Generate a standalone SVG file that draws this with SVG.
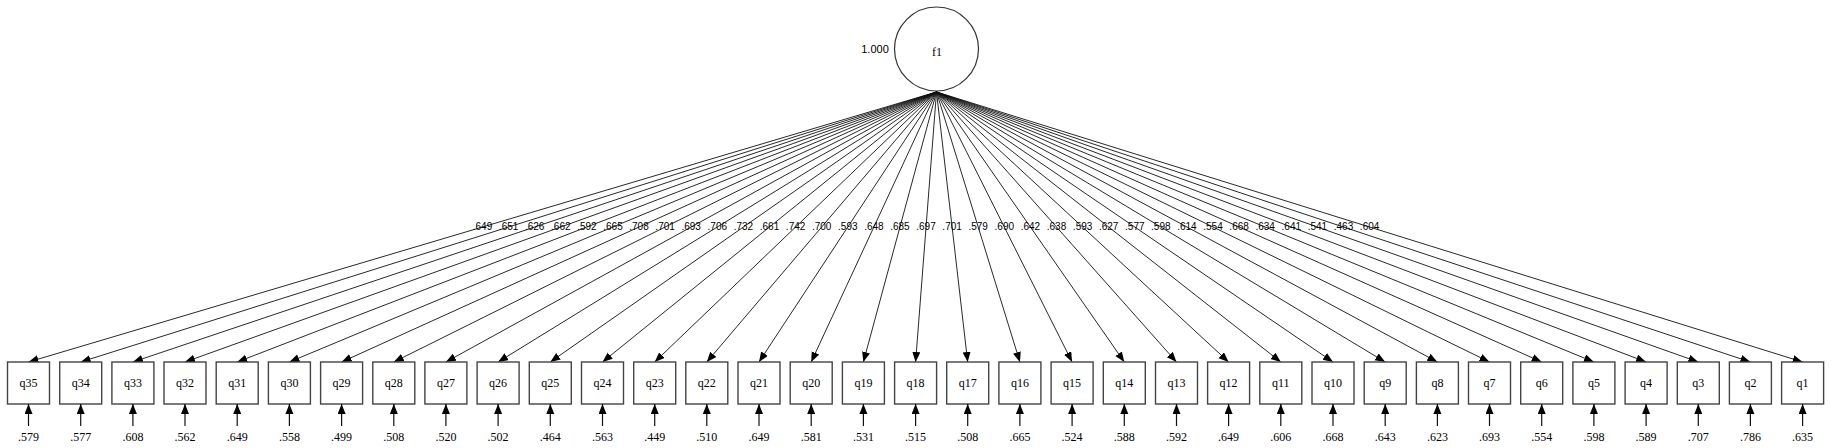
<svg xmlns="http://www.w3.org/2000/svg" width="1831" height="448" viewBox="0 0 1831 448">
<style>
.box{fill:#fff;stroke:#444;stroke-width:1.4}
.circ{fill:#fff;stroke:#333;stroke-width:1.2}
.edge{stroke:#111;stroke-width:0.9;fill:none}
.err{stroke:#111;stroke-width:1.2;fill:none}
.lbl{font-family:"Liberation Serif",serif;font-size:12px;fill:#000;text-anchor:middle}
.val{font-family:"Liberation Sans",sans-serif;font-size:10px;fill:#000;text-anchor:middle}
.ev{font-family:"Liberation Serif",serif;font-size:12px;fill:#000;text-anchor:middle}
</style>
<defs>
<marker id="ah" markerUnits="userSpaceOnUse" markerWidth="11" markerHeight="9" refX="10" refY="4" orient="auto">
<path d="M0,0 L10,4 L0,8 z" fill="#000"/>
</marker>
</defs>
<rect width="1831" height="448" fill="#fff"/>
<g id="f1">
<circle class="circ" cx="936.5" cy="49" r="42"/>
<text class="lbl" x="937" y="56">f1</text>
<text class="val" x="875" y="53" style="font-size:11px">1.000</text>
</g>
<g id="connectors">
<line class="edge" x1="936.5" y1="92" x2="28.5" y2="362" marker-end="url(#ah)"/>
<line class="edge" x1="936.5" y1="92" x2="80.7" y2="362" marker-end="url(#ah)"/>
<line class="edge" x1="936.5" y1="92" x2="132.9" y2="362" marker-end="url(#ah)"/>
<line class="edge" x1="936.5" y1="92" x2="185.0" y2="362" marker-end="url(#ah)"/>
<line class="edge" x1="936.5" y1="92" x2="237.2" y2="362" marker-end="url(#ah)"/>
<line class="edge" x1="936.5" y1="92" x2="289.4" y2="362" marker-end="url(#ah)"/>
<line class="edge" x1="936.5" y1="92" x2="341.6" y2="362" marker-end="url(#ah)"/>
<line class="edge" x1="936.5" y1="92" x2="393.8" y2="362" marker-end="url(#ah)"/>
<line class="edge" x1="936.5" y1="92" x2="445.9" y2="362" marker-end="url(#ah)"/>
<line class="edge" x1="936.5" y1="92" x2="498.1" y2="362" marker-end="url(#ah)"/>
<line class="edge" x1="936.5" y1="92" x2="550.3" y2="362" marker-end="url(#ah)"/>
<line class="edge" x1="936.5" y1="92" x2="602.5" y2="362" marker-end="url(#ah)"/>
<line class="edge" x1="936.5" y1="92" x2="654.7" y2="362" marker-end="url(#ah)"/>
<line class="edge" x1="936.5" y1="92" x2="706.8" y2="362" marker-end="url(#ah)"/>
<line class="edge" x1="936.5" y1="92" x2="759.0" y2="362" marker-end="url(#ah)"/>
<line class="edge" x1="936.5" y1="92" x2="811.2" y2="362" marker-end="url(#ah)"/>
<line class="edge" x1="936.5" y1="92" x2="863.4" y2="362" marker-end="url(#ah)"/>
<line class="edge" x1="936.5" y1="92" x2="915.6" y2="362" marker-end="url(#ah)"/>
<line class="edge" x1="936.5" y1="92" x2="967.7" y2="362" marker-end="url(#ah)"/>
<line class="edge" x1="936.5" y1="92" x2="1019.9" y2="362" marker-end="url(#ah)"/>
<line class="edge" x1="936.5" y1="92" x2="1072.1" y2="362" marker-end="url(#ah)"/>
<line class="edge" x1="936.5" y1="92" x2="1124.3" y2="362" marker-end="url(#ah)"/>
<line class="edge" x1="936.5" y1="92" x2="1176.5" y2="362" marker-end="url(#ah)"/>
<line class="edge" x1="936.5" y1="92" x2="1228.6" y2="362" marker-end="url(#ah)"/>
<line class="edge" x1="936.5" y1="92" x2="1280.8" y2="362" marker-end="url(#ah)"/>
<line class="edge" x1="936.5" y1="92" x2="1333.0" y2="362" marker-end="url(#ah)"/>
<line class="edge" x1="936.5" y1="92" x2="1385.2" y2="362" marker-end="url(#ah)"/>
<line class="edge" x1="936.5" y1="92" x2="1437.4" y2="362" marker-end="url(#ah)"/>
<line class="edge" x1="936.5" y1="92" x2="1489.5" y2="362" marker-end="url(#ah)"/>
<line class="edge" x1="936.5" y1="92" x2="1541.7" y2="362" marker-end="url(#ah)"/>
<line class="edge" x1="936.5" y1="92" x2="1593.9" y2="362" marker-end="url(#ah)"/>
<line class="edge" x1="936.5" y1="92" x2="1646.1" y2="362" marker-end="url(#ah)"/>
<line class="edge" x1="936.5" y1="92" x2="1698.3" y2="362" marker-end="url(#ah)"/>
<line class="edge" x1="936.5" y1="92" x2="1750.4" y2="362" marker-end="url(#ah)"/>
<line class="edge" x1="936.5" y1="92" x2="1802.6" y2="362" marker-end="url(#ah)"/>
<text class="val" x="482.5" y="230">.649</text>
<text class="val" x="508.6" y="230">.651</text>
<text class="val" x="534.7" y="230">.626</text>
<text class="val" x="560.8" y="230">.662</text>
<text class="val" x="586.9" y="230">.592</text>
<text class="val" x="613.0" y="230">.665</text>
<text class="val" x="639.0" y="230">.708</text>
<text class="val" x="665.1" y="230">.701</text>
<text class="val" x="691.2" y="230">.693</text>
<text class="val" x="717.3" y="230">.706</text>
<text class="val" x="743.4" y="230">.732</text>
<text class="val" x="769.5" y="230">.661</text>
<text class="val" x="795.6" y="230">.742</text>
<text class="val" x="821.7" y="230">.700</text>
<text class="val" x="847.8" y="230">.593</text>
<text class="val" x="873.9" y="230">.648</text>
<text class="val" x="899.9" y="230">.685</text>
<text class="val" x="926.0" y="230">.697</text>
<text class="val" x="952.1" y="230">.701</text>
<text class="val" x="978.2" y="230">.579</text>
<text class="val" x="1004.3" y="230">.690</text>
<text class="val" x="1030.4" y="230">.642</text>
<text class="val" x="1056.5" y="230">.638</text>
<text class="val" x="1082.6" y="230">.593</text>
<text class="val" x="1108.7" y="230">.627</text>
<text class="val" x="1134.8" y="230">.577</text>
<text class="val" x="1160.8" y="230">.598</text>
<text class="val" x="1186.9" y="230">.614</text>
<text class="val" x="1213.0" y="230">.554</text>
<text class="val" x="1239.1" y="230">.668</text>
<text class="val" x="1265.2" y="230">.634</text>
<text class="val" x="1291.3" y="230">.641</text>
<text class="val" x="1317.4" y="230">.541</text>
<text class="val" x="1343.5" y="230">.463</text>
<text class="val" x="1369.6" y="230">.604</text>
</g>
<g id="q35"><rect class="box" x="7.5" y="362" width="42" height="42"/><text class="lbl" x="28.5" y="387">q35</text><line class="err" x1="28.5" y1="426" x2="28.5" y2="404" marker-end="url(#ah)"/><text class="ev" x="28.5" y="441">.579</text></g>
<g id="q34"><rect class="box" x="59.7" y="362" width="42" height="42"/><text class="lbl" x="80.7" y="387">q34</text><line class="err" x1="80.7" y1="426" x2="80.7" y2="404" marker-end="url(#ah)"/><text class="ev" x="80.7" y="441">.577</text></g>
<g id="q33"><rect class="box" x="111.9" y="362" width="42" height="42"/><text class="lbl" x="132.9" y="387">q33</text><line class="err" x1="132.9" y1="426" x2="132.9" y2="404" marker-end="url(#ah)"/><text class="ev" x="132.9" y="441">.608</text></g>
<g id="q32"><rect class="box" x="164.0" y="362" width="42" height="42"/><text class="lbl" x="185.0" y="387">q32</text><line class="err" x1="185.0" y1="426" x2="185.0" y2="404" marker-end="url(#ah)"/><text class="ev" x="185.0" y="441">.562</text></g>
<g id="q31"><rect class="box" x="216.2" y="362" width="42" height="42"/><text class="lbl" x="237.2" y="387">q31</text><line class="err" x1="237.2" y1="426" x2="237.2" y2="404" marker-end="url(#ah)"/><text class="ev" x="237.2" y="441">.649</text></g>
<g id="q30"><rect class="box" x="268.4" y="362" width="42" height="42"/><text class="lbl" x="289.4" y="387">q30</text><line class="err" x1="289.4" y1="426" x2="289.4" y2="404" marker-end="url(#ah)"/><text class="ev" x="289.4" y="441">.558</text></g>
<g id="q29"><rect class="box" x="320.6" y="362" width="42" height="42"/><text class="lbl" x="341.6" y="387">q29</text><line class="err" x1="341.6" y1="426" x2="341.6" y2="404" marker-end="url(#ah)"/><text class="ev" x="341.6" y="441">.499</text></g>
<g id="q28"><rect class="box" x="372.8" y="362" width="42" height="42"/><text class="lbl" x="393.8" y="387">q28</text><line class="err" x1="393.8" y1="426" x2="393.8" y2="404" marker-end="url(#ah)"/><text class="ev" x="393.8" y="441">.508</text></g>
<g id="q27"><rect class="box" x="424.9" y="362" width="42" height="42"/><text class="lbl" x="445.9" y="387">q27</text><line class="err" x1="445.9" y1="426" x2="445.9" y2="404" marker-end="url(#ah)"/><text class="ev" x="445.9" y="441">.520</text></g>
<g id="q26"><rect class="box" x="477.1" y="362" width="42" height="42"/><text class="lbl" x="498.1" y="387">q26</text><line class="err" x1="498.1" y1="426" x2="498.1" y2="404" marker-end="url(#ah)"/><text class="ev" x="498.1" y="441">.502</text></g>
<g id="q25"><rect class="box" x="529.3" y="362" width="42" height="42"/><text class="lbl" x="550.3" y="387">q25</text><line class="err" x1="550.3" y1="426" x2="550.3" y2="404" marker-end="url(#ah)"/><text class="ev" x="550.3" y="441">.464</text></g>
<g id="q24"><rect class="box" x="581.5" y="362" width="42" height="42"/><text class="lbl" x="602.5" y="387">q24</text><line class="err" x1="602.5" y1="426" x2="602.5" y2="404" marker-end="url(#ah)"/><text class="ev" x="602.5" y="441">.563</text></g>
<g id="q23"><rect class="box" x="633.7" y="362" width="42" height="42"/><text class="lbl" x="654.7" y="387">q23</text><line class="err" x1="654.7" y1="426" x2="654.7" y2="404" marker-end="url(#ah)"/><text class="ev" x="654.7" y="441">.449</text></g>
<g id="q22"><rect class="box" x="685.8" y="362" width="42" height="42"/><text class="lbl" x="706.8" y="387">q22</text><line class="err" x1="706.8" y1="426" x2="706.8" y2="404" marker-end="url(#ah)"/><text class="ev" x="706.8" y="441">.510</text></g>
<g id="q21"><rect class="box" x="738.0" y="362" width="42" height="42"/><text class="lbl" x="759.0" y="387">q21</text><line class="err" x1="759.0" y1="426" x2="759.0" y2="404" marker-end="url(#ah)"/><text class="ev" x="759.0" y="441">.649</text></g>
<g id="q20"><rect class="box" x="790.2" y="362" width="42" height="42"/><text class="lbl" x="811.2" y="387">q20</text><line class="err" x1="811.2" y1="426" x2="811.2" y2="404" marker-end="url(#ah)"/><text class="ev" x="811.2" y="441">.581</text></g>
<g id="q19"><rect class="box" x="842.4" y="362" width="42" height="42"/><text class="lbl" x="863.4" y="387">q19</text><line class="err" x1="863.4" y1="426" x2="863.4" y2="404" marker-end="url(#ah)"/><text class="ev" x="863.4" y="441">.531</text></g>
<g id="q18"><rect class="box" x="894.6" y="362" width="42" height="42"/><text class="lbl" x="915.6" y="387">q18</text><line class="err" x1="915.6" y1="426" x2="915.6" y2="404" marker-end="url(#ah)"/><text class="ev" x="915.6" y="441">.515</text></g>
<g id="q17"><rect class="box" x="946.7" y="362" width="42" height="42"/><text class="lbl" x="967.7" y="387">q17</text><line class="err" x1="967.7" y1="426" x2="967.7" y2="404" marker-end="url(#ah)"/><text class="ev" x="967.7" y="441">.508</text></g>
<g id="q16"><rect class="box" x="998.9" y="362" width="42" height="42"/><text class="lbl" x="1019.9" y="387">q16</text><line class="err" x1="1019.9" y1="426" x2="1019.9" y2="404" marker-end="url(#ah)"/><text class="ev" x="1019.9" y="441">.665</text></g>
<g id="q15"><rect class="box" x="1051.1" y="362" width="42" height="42"/><text class="lbl" x="1072.1" y="387">q15</text><line class="err" x1="1072.1" y1="426" x2="1072.1" y2="404" marker-end="url(#ah)"/><text class="ev" x="1072.1" y="441">.524</text></g>
<g id="q14"><rect class="box" x="1103.3" y="362" width="42" height="42"/><text class="lbl" x="1124.3" y="387">q14</text><line class="err" x1="1124.3" y1="426" x2="1124.3" y2="404" marker-end="url(#ah)"/><text class="ev" x="1124.3" y="441">.588</text></g>
<g id="q13"><rect class="box" x="1155.5" y="362" width="42" height="42"/><text class="lbl" x="1176.5" y="387">q13</text><line class="err" x1="1176.5" y1="426" x2="1176.5" y2="404" marker-end="url(#ah)"/><text class="ev" x="1176.5" y="441">.592</text></g>
<g id="q12"><rect class="box" x="1207.6" y="362" width="42" height="42"/><text class="lbl" x="1228.6" y="387">q12</text><line class="err" x1="1228.6" y1="426" x2="1228.6" y2="404" marker-end="url(#ah)"/><text class="ev" x="1228.6" y="441">.649</text></g>
<g id="q11"><rect class="box" x="1259.8" y="362" width="42" height="42"/><text class="lbl" x="1280.8" y="387">q11</text><line class="err" x1="1280.8" y1="426" x2="1280.8" y2="404" marker-end="url(#ah)"/><text class="ev" x="1280.8" y="441">.606</text></g>
<g id="q10"><rect class="box" x="1312.0" y="362" width="42" height="42"/><text class="lbl" x="1333.0" y="387">q10</text><line class="err" x1="1333.0" y1="426" x2="1333.0" y2="404" marker-end="url(#ah)"/><text class="ev" x="1333.0" y="441">.668</text></g>
<g id="q9"><rect class="box" x="1364.2" y="362" width="42" height="42"/><text class="lbl" x="1385.2" y="387">q9</text><line class="err" x1="1385.2" y1="426" x2="1385.2" y2="404" marker-end="url(#ah)"/><text class="ev" x="1385.2" y="441">.643</text></g>
<g id="q8"><rect class="box" x="1416.4" y="362" width="42" height="42"/><text class="lbl" x="1437.4" y="387">q8</text><line class="err" x1="1437.4" y1="426" x2="1437.4" y2="404" marker-end="url(#ah)"/><text class="ev" x="1437.4" y="441">.623</text></g>
<g id="q7"><rect class="box" x="1468.5" y="362" width="42" height="42"/><text class="lbl" x="1489.5" y="387">q7</text><line class="err" x1="1489.5" y1="426" x2="1489.5" y2="404" marker-end="url(#ah)"/><text class="ev" x="1489.5" y="441">.693</text></g>
<g id="q6"><rect class="box" x="1520.7" y="362" width="42" height="42"/><text class="lbl" x="1541.7" y="387">q6</text><line class="err" x1="1541.7" y1="426" x2="1541.7" y2="404" marker-end="url(#ah)"/><text class="ev" x="1541.7" y="441">.554</text></g>
<g id="q5"><rect class="box" x="1572.9" y="362" width="42" height="42"/><text class="lbl" x="1593.9" y="387">q5</text><line class="err" x1="1593.9" y1="426" x2="1593.9" y2="404" marker-end="url(#ah)"/><text class="ev" x="1593.9" y="441">.598</text></g>
<g id="q4"><rect class="box" x="1625.1" y="362" width="42" height="42"/><text class="lbl" x="1646.1" y="387">q4</text><line class="err" x1="1646.1" y1="426" x2="1646.1" y2="404" marker-end="url(#ah)"/><text class="ev" x="1646.1" y="441">.589</text></g>
<g id="q3"><rect class="box" x="1677.3" y="362" width="42" height="42"/><text class="lbl" x="1698.3" y="387">q3</text><line class="err" x1="1698.3" y1="426" x2="1698.3" y2="404" marker-end="url(#ah)"/><text class="ev" x="1698.3" y="441">.707</text></g>
<g id="q2"><rect class="box" x="1729.4" y="362" width="42" height="42"/><text class="lbl" x="1750.4" y="387">q2</text><line class="err" x1="1750.4" y1="426" x2="1750.4" y2="404" marker-end="url(#ah)"/><text class="ev" x="1750.4" y="441">.786</text></g>
<g id="q1"><rect class="box" x="1781.6" y="362" width="42" height="42"/><text class="lbl" x="1802.6" y="387">q1</text><line class="err" x1="1802.6" y1="426" x2="1802.6" y2="404" marker-end="url(#ah)"/><text class="ev" x="1802.6" y="441">.635</text></g>
</svg>
